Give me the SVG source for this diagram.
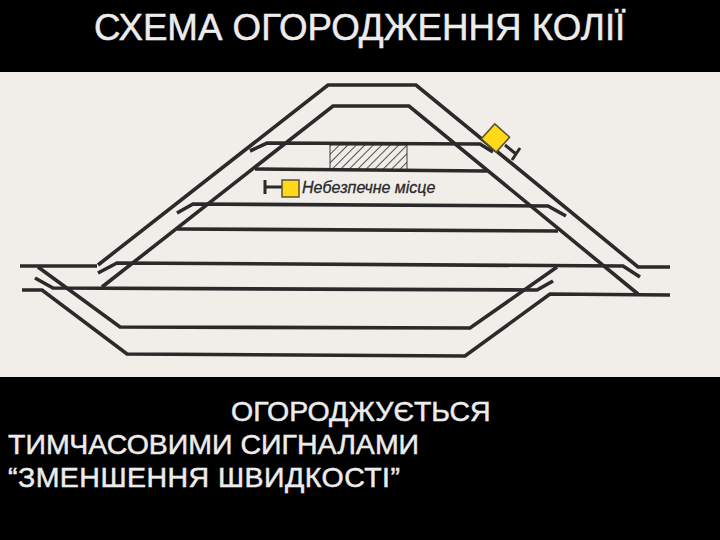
<svg xmlns="http://www.w3.org/2000/svg" width="720" height="540" viewBox="0 0 720 540">
<style>
.t{font-family:"Liberation Sans",Arial,sans-serif;fill:#ececec;stroke:#ececec;stroke-width:.5}
.r{fill:none;stroke:#2b2a2a;stroke-width:3.6;stroke-linejoin:miter}
.s{fill:#ffd91a;stroke:#5a5230;stroke-width:1.5}
.b{fill:none;stroke:#2b2a2a;stroke-width:3}
</style>
<defs>
<pattern id="h" width="6" height="6" patternUnits="userSpaceOnUse" patternTransform="rotate(45)">
<rect width="6" height="6" fill="#f0ece7"/><line x1="0" y1="0" x2="0" y2="6" stroke="#3f3d3a" stroke-width="1.8"/>
</pattern>
</defs>
<rect width="720" height="540" fill="#000"/>
<rect x="0" y="72" width="720" height="305" fill="#f1ede9"/>
<text class="t" x="94" y="40" font-size="36.7">СХЕМА ОГОРОДЖЕННЯ КОЛІЇ</text>
<text class="t" x="231" y="421" font-size="28.5">ОГОРОДЖУЄТЬСЯ</text>
<text class="t" x="8" y="454" font-size="28.5">ТИМЧАСОВИМИ СИГНАЛАМИ</text>
<text class="t" x="8" y="487" font-size="28.5" textLength="392">“ЗМЕНШЕННЯ ШВИДКОСТІ”</text>
<rect id="danger-zone" x="330" y="145" width="77" height="25" fill="url(#h)" stroke="#3f3d3a"/>
<g id="tracks">
<path class="r" d="M98 265L328 85H416L638 267H670"/>
<path class="r" d="M102 287L333 106H409L638 294"/>
<path class="r" d="M250 151L267 143L480 144L493 152"/>
<path class="r" d="M255 169L487 171"/>
<path class="r" d="M177 213L193 204L548 206L566 216"/>
<path class="r" d="M177 229L558 231"/>
<path class="r" d="M98 273L117 263L623 266L640 277"/>
<path class="r" d="M20 266H97"/>
<path class="r" d="M38 267L120 327L470 328L557 267"/>
<path class="r" d="M35 278L53 288L537 290L553 281"/>
<path class="r" d="M22 290H42L127 354L465 356L550 294L670 295"/>
</g>
<g id="signal-upper">
<path class="b" d="M505 145L516 154M520 148L512 160"/>
<rect class="s" x="485.500" y="128" width="20" height="20" transform="rotate(42 495.500 138)"/>
</g>
<g id="signal-lower">
<path class="b" d="M282 187H265M265 180V194"/>
<rect class="s" x="282" y="180" width="17" height="17"/>
</g>
<text id="danger-label" x="302" y="193" font-size="16" font-style="italic" font-family="'Liberation Sans',Arial,sans-serif" fill="#2a2a2c" stroke="#2a2a2c" stroke-width=".3">Небезпечне місце</text>
</svg>
